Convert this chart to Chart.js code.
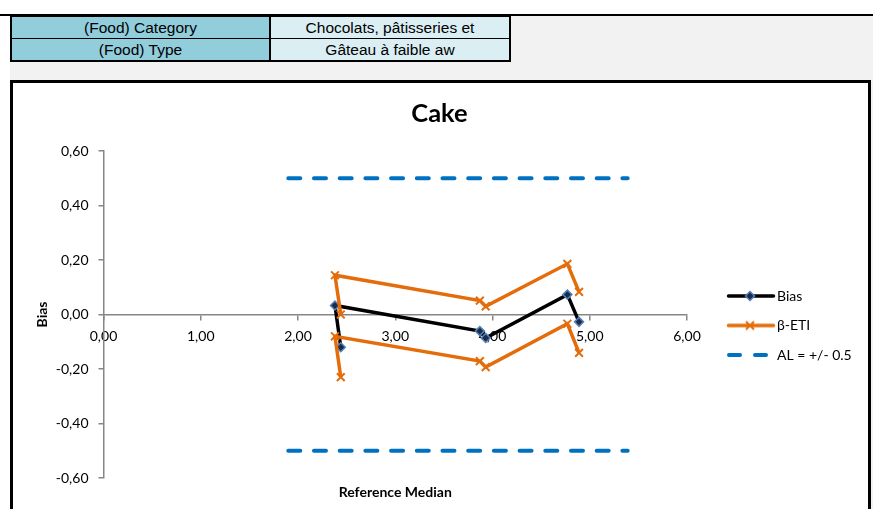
<!DOCTYPE html>
<html><head><meta charset="utf-8">
<script src="https://cdn.jsdelivr.net/npm/chart.js@4.4.1/dist/chart.umd.min.js"></script>
<style>
html,body{margin:0;padding:0;width:873px;height:509px;overflow:hidden;background:#fff;}
.abs{position:absolute;}
.cell{position:absolute;height:21px;line-height:21px;text-align:center;font-family:'Liberation Sans',Arial,sans-serif;font-size:15.5px;color:#000;white-space:nowrap;overflow:hidden;}
</style></head><body>
<div class="abs" style="left:0;top:14px;width:873px;height:2px;background:#000"></div>
<div class="abs" style="left:10px;top:16px;width:863px;height:493px;background:#f2f2f2"></div>
<div class="abs" style="left:10px;top:15px;width:501px;height:47px;background:#000"></div>
<div class="cell" style="left:12px;top:17px;width:257px;background:#92cddc">(Food) Category</div>
<div class="cell" style="left:271px;top:17px;width:238px;background:#daeef3">Chocolats, pâtisseries et</div>
<div class="cell" style="left:12px;top:39px;width:257px;background:#92cddc">(Food) Type</div>
<div class="cell" style="left:271px;top:39px;width:238px;background:#daeef3">Gâteau à faible aw</div>
<div class="abs" style="left:10px;top:80px;width:861px;height:460px;box-sizing:border-box;border:3px solid #000;background:#fff"></div>
<canvas id="c" width="873" height="509" style="position:absolute;left:0;top:0;width:873px;height:509px;"></canvas>
<script>
// ---- data ----
const medianX    = [2.44, 2.38, 3.87, 3.93, 4.77, 4.89];
const biasValues = [-0.120, 0.033, -0.061, -0.086, 0.073, -0.027];
const etiUpper   = [0.000, 0.144, 0.051, 0.030, 0.186, 0.083];
const etiLower   = [-0.230, -0.080, -0.171, -0.193, -0.034, -0.141];
const alX        = [1.90, 5.39];
const alUpper    = [0.5, 0.5];
const alLower    = [-0.5, -0.5];
const seriesNames = ['Bias', 'β-ETI', 'AL = +/- 0.5'];
const chartTitle = 'Cake';
const xTitle = 'Reference Median';
const yTitle = 'Bias';

const ORANGE = '#E46C0A', BLUE = '#0070C0', AXIS = '#868686';
const fmt = v => (Math.abs(v) < 1e-9 ? 0 : v).toFixed(2).replace('.', ',');
const pts = (xs, ys) => xs.map((x, i) => ({x: x, y: ys[i]}));

// ---- layout helpers ----
const W = 873;
const FS = 14;
const LEG_PAD = 15.5, PSW = 38, S = 29.5;
const mc = document.createElement('canvas').getContext('2d');
mc.font = FS + 'px Lato';
const maxT = Math.max.apply(null, seriesNames.map(t => mc.measureText(t).width));
const M = LEG_PAD + PSW + FS / 2 + maxT + 10;
const chartRight = 687, chartLeft = 103.5;
const R = W - chartRight - M - S;
const PL = 2 * 439.5 - (W - R);
const yW = chartLeft - PL;
const yTitlePad = Math.max(0, 42 - PL - FS * 1.2 / 2);

function mk(draw) {
  const c = document.createElement('canvas'); c.width = 52; c.height = 14;
  const g = c.getContext('2d'); draw(g); return c;
}
const legendImgs = {
  0: mk(g => {
    g.strokeStyle = '#000'; g.lineWidth = 3.5; g.lineCap = 'round';
    g.beginPath(); g.moveTo(3.5, 7); g.lineTo(48.5, 7); g.stroke();
    g.beginPath(); g.moveTo(25, 2.5); g.lineTo(29.5, 7); g.lineTo(25, 11.5); g.lineTo(20.5, 7); g.closePath();
    g.fillStyle = '#1f2a44'; g.fill(); g.strokeStyle = '#4f81bd'; g.lineWidth = 1.5; g.stroke();
  }),
  1: mk(g => {
    g.strokeStyle = ORANGE; g.lineWidth = 3.5; g.lineCap = 'round';
    g.beginPath(); g.moveTo(3.5, 7); g.lineTo(48.5, 7); g.stroke();
    g.lineWidth = 2; g.lineCap = 'butt';
    g.beginPath(); g.moveTo(21, 3); g.lineTo(29, 11); g.moveTo(29, 3); g.lineTo(21, 11); g.stroke();
  }),
  3: mk(g => {
    g.strokeStyle = BLUE; g.lineWidth = 4; g.lineCap = 'round';
    g.beginPath(); g.moveTo(4, 7); g.lineTo(15, 7); g.moveTo(30, 7); g.lineTo(41, 7); g.stroke();
  })
};

const etiStyle = {showLine: true, borderColor: ORANGE, borderWidth: 3.5, pointStyle: 'crossRot',
  pointRadius: 5.5, pointBorderColor: ORANGE, pointBackgroundColor: ORANGE, pointBorderWidth: 2, order: 2};
const alStyle = {showLine: true, borderColor: BLUE, borderWidth: 4, borderDash: [12, 13.7],
  borderCapStyle: 'round', pointRadius: 0, order: 1};

const tickFont = {family: 'Lato', size: FS};
const gridOpts = {drawOnChartArea: false, drawTicks: true, tickLength: 5, color: AXIS, lineWidth: 1.5};

new Chart(document.getElementById('c'), {
  type: 'scatter',
  data: {
    datasets: [
      {label: seriesNames[0], data: pts(medianX, biasValues), showLine: true, borderColor: '#000', borderWidth: 3.5,
       pointStyle: 'rectRot', pointRadius: 4.5, pointBackgroundColor: '#1f2a44', pointBorderColor: '#4f81bd',
       pointBorderWidth: 1.5, order: 5, yAxisID: 'y'},
      Object.assign({label: seriesNames[1], data: pts(medianX, etiUpper), yAxisID: 'y'}, etiStyle),
      Object.assign({label: seriesNames[1] + ' low', data: pts(medianX, etiLower), yAxisID: 'y'}, etiStyle),
      Object.assign({label: seriesNames[2], data: pts(alX, alUpper), yAxisID: 'y'}, alStyle),
      Object.assign({label: seriesNames[2] + ' low', data: pts(alX, alLower), yAxisID: 'y'}, alStyle)
    ]
  },
  options: {
    responsive: false, animation: false, devicePixelRatio: 1,
    layout: {padding: {left: PL, right: R, top: 0, bottom: 0}},
    scales: {
      x: {type: 'linear', position: {y: 0}, min: 0, max: 6,
          ticks: {stepSize: 1, padding: 9, color: '#000', font: tickFont, callback: fmt, maxRotation: 0, autoSkip: false},
          grid: gridOpts, border: {color: AXIS, width: 1.5}},
      y: {type: 'linear', position: 'left', min: -0.6, max: 0.6,
          ticks: {stepSize: 0.2, padding: 10, color: '#000', font: tickFont, callback: fmt},
          grid: gridOpts, border: {color: AXIS, width: 1.5},
          title: {display: true, text: yTitle, color: '#000', font: {family: 'Lato', size: FS, weight: 'bold'},
                  padding: {top: yTitlePad, bottom: 0}},
          afterFit: s => { s.width = yW; }},
      sp: {type: 'linear', axis: 'y', position: 'right', display: true, min: 0, max: 1,
           grid: {display: false}, border: {display: false}, ticks: {display: false},
           afterFit: s => { s.width = S; }}
    },
    plugins: {
      legend: {
        position: 'right', align: 'center', fullSize: false, maxWidth: 400,
        title: {display: true, text: ' ', font: {size: 10}, padding: 5},
        labels: {
          usePointStyle: true, pointStyleWidth: PSW, padding: LEG_PAD, color: '#000',
          font: {family: 'Lato', size: FS},
          sort: (a, b) => a.datasetIndex - b.datasetIndex,
          generateLabels: chart => Chart.defaults.plugins.legend.labels.generateLabels(chart)
            .filter(it => legendImgs[it.datasetIndex])
            .map(it => Object.assign({}, it, {pointStyle: legendImgs[it.datasetIndex]}))
        }
      },
      title: {display: true, text: chartTitle, color: '#000', font: {family: 'Lato', size: 25.5, weight: 'bold'},
              padding: {top: 98.7, bottom: 21.7}},
      subtitle: {display: true, text: xTitle, position: 'bottom', fullSize: false, color: '#000',
                 font: {family: 'Lato', size: FS, weight: 'bold'}, padding: {top: 5.6, bottom: 8.6}},
      tooltip: {enabled: false}
    }
  }
});
</script>
</body></html>
